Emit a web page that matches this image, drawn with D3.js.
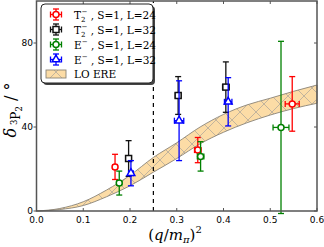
<!DOCTYPE html>
<html>
<head>
<meta charset="utf-8">
<script src="https://cdn.jsdelivr.net/npm/d3@7"></script>
<style>
  body { margin: 0; background: #fff; }
  svg { display: block; }
</style>
</head>
<body>
<svg width="324" height="247"></svg>
<script>
// LO ERE band
const bandX = [0, 0.05, 0.1, 0.15, 0.2, 0.25, 0.3, 0.35, 0.4, 0.45, 0.5, 0.55, 0.6];
const bandLo = [0, 0.7, 2.6, 6.8, 12, 18.5, 25, 32, 37.5, 42, 45.7, 48.8, 51.3];
const bandHi = [0, 1.2, 4.4, 10, 17, 25.5, 32.5, 40, 46, 50.5, 53.7, 57, 60];

// lattice points
const t2L24 = { x: [0.168, 0.345, 0.547], y: [21, 29, 51], ye: [6, 6, 13], xe: [0.005, 0.007, 0.015] };
const t2L32 = { x: [0.197, 0.303, 0.405], y: [25, 55, 59], ye: [8.5, 9, 12], xe: [0.005, 0.006, 0.007] };
const eL24 = { x: [0.177, 0.351, 0.523], y: [13.3, 26, 39.8], ye: [5.7, 7, 41], xe: [0.005, 0.007, 0.017] };
const eL32 = { x: [0.202, 0.305, 0.41], y: [18, 43, 52], ye: [6, 19, 11.5], xe: [0.005, 0.01, 0.008] };

const xTicks = [0.0, 0.1, 0.2, 0.3, 0.4, 0.5, 0.6];
const yTicks = [0, 40, 80];
const cutX = 0.25;

const svg = d3.select("svg");
const x = d3.scaleLinear().domain([0, 0.6]).range([36.5, 317]);
const y = d3.scaleLinear().domain([0, 100]).range([211, 1]);

// hatch pattern
const defs = svg.append("defs");
const pat = defs.append("pattern")
    .attr("id", "hatch")
    .attr("patternUnits", "userSpaceOnUse")
    .attr("width", 16).attr("height", 16);
pat.append("rect").attr("width", 16).attr("height", 16).attr("fill", "#fcdca6");
pat.append("path").attr("d", "M0,0L16,16M16,0L0,16")
    .attr("stroke", "#a9a49a").attr("stroke-width", 0.7);

const band = bandX.map((v, i) => ({ x: v, lo: bandLo[i], hi: bandHi[i] }));
svg.append("path")
    .datum(band)
    .attr("d", d3.area()
        .x(d => x(d.x)).y0(d => y(d.lo)).y1(d => y(d.hi))
        .curve(d3.curveMonotoneX))
    .attr("fill", "url(#hatch)")
    .attr("stroke", "#8a8377")
    .attr("stroke-width", 0.9);

// dashed line
svg.append("line")
    .attr("x1", x(cutX)).attr("x2", x(cutX))
    .attr("y1", y(0)).attr("y2", y(100))
    .attr("stroke", "#000").attr("stroke-width", 1.2)
    .attr("stroke-dasharray", "4,4");

function marker(g, shape, cx, cy, color) {
    if (shape === "circle") {
        g.append("circle").attr("cx", cx).attr("cy", cy).attr("r", 3)
            .attr("fill", "#fff").attr("stroke", color).attr("stroke-width", 1.5);
    } else if (shape === "square") {
        g.append("rect").attr("x", cx - 3).attr("y", cy - 3).attr("width", 6).attr("height", 6)
            .attr("fill", "#fff").attr("stroke", color).attr("stroke-width", 1.5);
    } else {
        g.append("path").attr("d", d3.symbol(d3.symbolTriangle, 26)())
            .attr("transform", `translate(${cx},${cy})`)
            .attr("fill", "#fff").attr("stroke", color).attr("stroke-width", 1.5);
    }
}

function errPoint(g, cx, cy, x0, x1, y0, y1, color, shape) {
    const cap = 3;
    g.append("line").attr("x1", cx).attr("x2", cx).attr("y1", y0).attr("y2", y1)
        .attr("stroke", color).attr("stroke-width", 1.3);
    g.append("line").attr("x1", x0).attr("x2", x1).attr("y1", cy).attr("y2", cy)
        .attr("stroke", color).attr("stroke-width", 1.3);
    [y0, y1].forEach(v => g.append("line").attr("x1", cx - cap).attr("x2", cx + cap)
        .attr("y1", v).attr("y2", v).attr("stroke", color).attr("stroke-width", 1.3));
    [x0, x1].forEach(v => g.append("line").attr("x1", v).attr("x2", v)
        .attr("y1", cy - cap).attr("y2", cy + cap).attr("stroke", color).attr("stroke-width", 1.3));
    marker(g, shape, cx, cy, color);
}

const series = [
    { d: t2L24, color: "#ff0000", shape: "circle" },
    { d: t2L32, color: "#111111", shape: "square" },
    { d: eL24, color: "#008000", shape: "circle" },
    { d: eL32, color: "#0000ff", shape: "triangle" }
];

const pts = svg.append("g");
series.forEach(s => {
    s.d.x.forEach((v, i) => {
        errPoint(pts, x(v), y(s.d.y[i]),
            x(v - s.d.xe[i]), x(v + s.d.xe[i]),
            y(s.d.y[i] - s.d.ye[i]), y(s.d.y[i] + s.d.ye[i]),
            s.color, s.shape);
    });
});

// frame
svg.append("rect")
    .attr("x", x(0)).attr("y", y(100))
    .attr("width", x(0.6) - x(0)).attr("height", y(0) - y(100))
    .attr("fill", "none").attr("stroke", "#555").attr("stroke-width", 1.5);

// ticks
const ticks = svg.append("g").attr("stroke", "#555").attr("stroke-width", 1);
xTicks.forEach(t => {
    ticks.append("line").attr("x1", x(t)).attr("x2", x(t)).attr("y1", y(0)).attr("y2", y(0) - 3);
    ticks.append("line").attr("x1", x(t)).attr("x2", x(t)).attr("y1", y(100)).attr("y2", y(100) + 3);
});
yTicks.forEach(t => {
    ticks.append("line").attr("x1", x(0) - 3).attr("x2", x(0)).attr("y1", y(t)).attr("y2", y(t));
    ticks.append("line").attr("x1", x(0.6) - 3).attr("x2", x(0.6)).attr("y1", y(t)).attr("y2", y(t));
});

svg.append("g").selectAll("text").data(xTicks).enter()
    .append("text")
    .attr("x", d => x(d)).attr("y", 223)
    .attr("text-anchor", "middle")
    .attr("font-family", "DejaVu Sans").attr("font-size", "9px")
    .text(d => d3.format(".1f")(d));

svg.append("g").selectAll("text").data(yTicks).enter()
    .append("text")
    .attr("x", 33).attr("y", d => y(d) + 2.5)
    .attr("text-anchor", "end")
    .attr("font-family", "DejaVu Sans").attr("font-size", "9px")
    .text(d => d);

// axis labels
const xl = svg.append("text")
    .attr("x", 175).attr("y", 240)
    .attr("text-anchor", "middle")
    .attr("font-family", "DejaVu Serif").attr("font-size", "15px");
xl.append("tspan").text("(");
xl.append("tspan").attr("font-style", "italic").text("q");
xl.append("tspan").text("/");
xl.append("tspan").attr("font-style", "italic").text("m");
xl.append("tspan").attr("font-style", "italic").attr("font-size", "10px").attr("dy", 3).text("π");
xl.append("tspan").attr("dy", -3).text(")");
xl.append("tspan").attr("font-size", "10px").attr("dy", -7).text("2");

const yl = svg.append("text")
    .attr("transform", "translate(16,110) rotate(-90)")
    .attr("text-anchor", "middle")
    .attr("font-family", "DejaVu Serif").attr("font-size", "16px");
yl.append("tspan").attr("font-style", "italic").text("δ");
yl.append("tspan").attr("font-size", "8.5px").attr("dy", 1).text(" 3");
yl.append("tspan").attr("font-size", "12px").attr("dy", 3).text("P");
yl.append("tspan").attr("font-size", "8.5px").attr("dy", 2).text("2");
yl.append("tspan").attr("dy", -6).text(" / °");

// legend
const lg = svg.append("g");
lg.append("rect").attr("x", 43).attr("y", 6).attr("width", 112).attr("height", 79)
    .attr("rx", 4).attr("fill", "#444");
lg.append("rect").attr("x", 41).attr("y", 4).attr("width", 112).attr("height", 79)
    .attr("rx", 4).attr("fill", "#fff").attr("stroke", "#222").attr("stroke-width", 1);

const legNames = [["T", "2", "−", ", S=1, L=24"], ["T", "2", "−", ", S=1, L=32"],
    ["E", "", "−", ", S=1, L=24"], ["E", "", "−", ", S=1, L=32"]];
const legY = [14.5, 29.5, 44.5, 59.5];
series.forEach((s, i) => {
    const cy = legY[i];
    errPoint(lg, 56, cy, 50.5, 61.5, cy - 5.5, cy + 5.5, s.color, s.shape);
    const t = lg.append("text").attr("x", 74).attr("y", cy + 4)
        .attr("font-family", "DejaVu Serif").attr("font-size", "10.5px");
    t.append("tspan").text(legNames[i][0]);
    if (legNames[i][1]) {
        t.append("tspan").attr("font-size", "7px").attr("dy", 3).text(legNames[i][1]);
        t.append("tspan").attr("font-size", "7px").attr("dy", -8).attr("dx", -4).text(legNames[i][2]);
        t.append("tspan").attr("dy", 5).text(" " + legNames[i][3]);
    } else {
        t.append("tspan").attr("font-size", "7px").attr("dy", -5).text(legNames[i][2]);
        t.append("tspan").attr("dy", 5).text(" " + legNames[i][3]);
    }
});
lg.append("rect").attr("x", 46).attr("y", 70).attr("width", 20).attr("height", 8)
    .attr("fill", "url(#hatch)").attr("stroke", "#8a8377").attr("stroke-width", 0.9);
lg.append("text").attr("x", 74).attr("y", 78)
    .attr("font-family", "DejaVu Serif").attr("font-size", "10.5px").text("LO ERE");
</script>
</body>
</html>
